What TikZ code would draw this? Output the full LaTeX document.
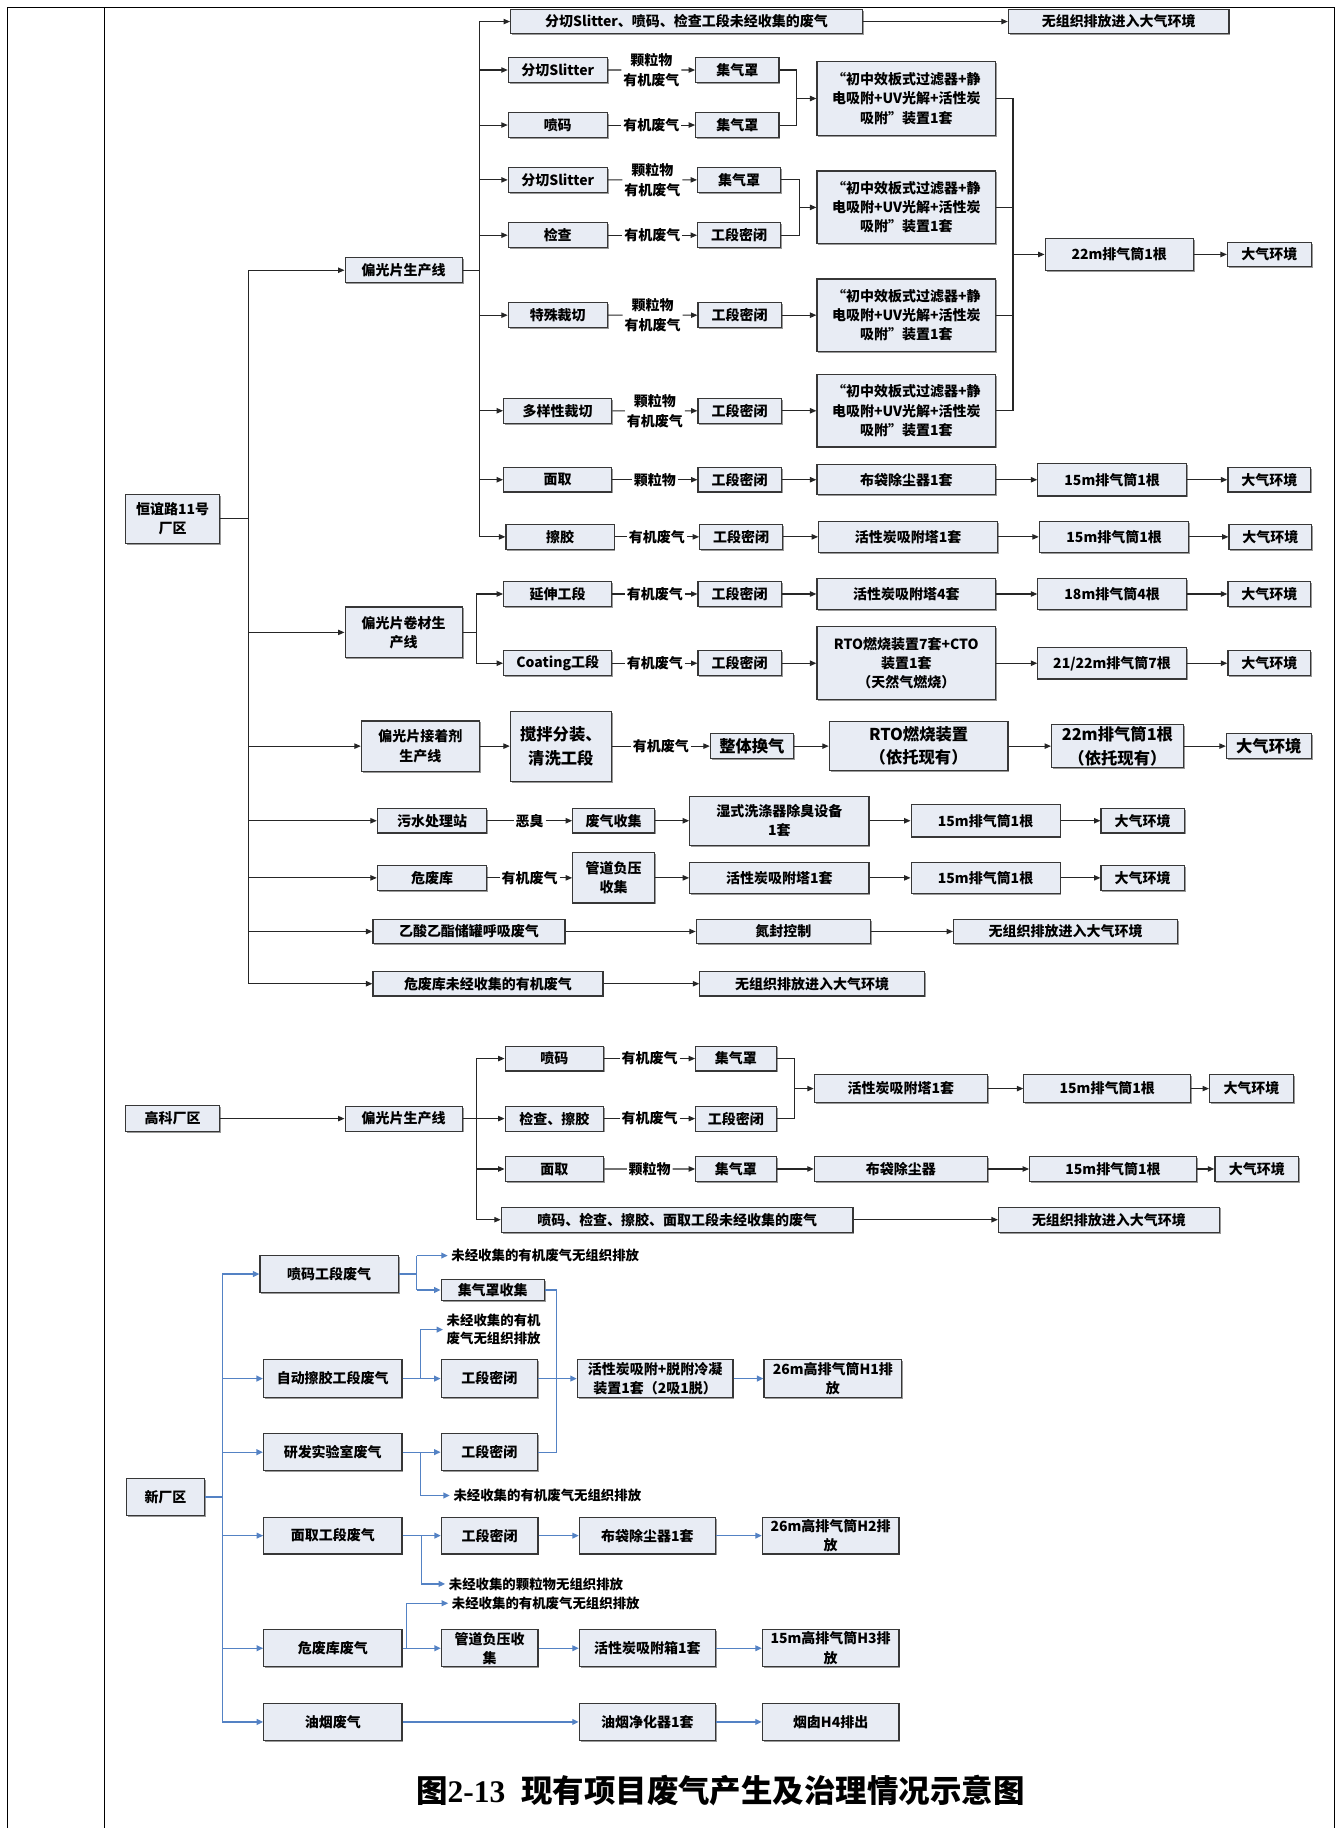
\documentclass[tikz,border=0pt]{standalone}
\usepackage{fontspec}
\setmainfont{Noto Sans CJK SC}
\newfontfamily\tnr{Liberation Serif}
\usetikzlibrary{arrows.meta,calc,shadows}
\definecolor{boxfill}{RGB}{232,236,244}
\definecolor{boxline}{RGB}{55,55,55}
\definecolor{bl}{RGB}{84,130,196}
\newcommand\fsA{\fontsize{12}{16.5}\selectfont\bfseries}
\newcommand\fsB{\fontsize{14}{20}\selectfont\bfseries}
\newcommand\fsL{\fontsize{12}{17}\selectfont\bfseries}
\newcommand\fsS{\fontsize{11.5}{15}\selectfont\bfseries}
\newcommand\fsT{\fontsize{27}{30}\selectfont\bfseries}
\tikzset{
  box/.style={draw=boxline, line width=1pt, fill=boxfill, inner sep=0pt, align=center, font=\fsA,
    general shadow={fill=black!40, shadow xshift=1.2pt, shadow yshift=-1.2pt}},
  lbl/.style={inner sep=1.5pt, align=center, font=\fsL},
  btxt/.style={inner sep=3pt, anchor=west, align=left, font=\fsS},
  ln/.style={draw=black!85, line width=0.9pt},
  arr/.style={ln, -{Triangle[length=5.5pt,width=4.6pt]}},
  bln/.style={draw=bl, line width=1.1pt},
  barr/.style={bln, -{Triangle[length=5.5pt,width=5pt]}},
  frame/.style={draw=black, line width=0.8pt}
}
\newcommand\corrx[2]{\pgfmathsetmacro#1{(#2>438)?(438+(#2-438)*0.986):(#2)}}
\newcommand\mybox[7][]{%
  \corrx\mbxa{#3}\corrx\mbxb{#5}%
  \pgfmathsetmacro\mbw{\mbxb-\mbxa}\pgfmathsetmacro\mbh{#6-#4}%
  \node[box,minimum width=\mbw pt,minimum height=\mbh pt,#1] (#2) at ({(\mbxa+\mbxb)/2},{(#4+#6)/2}) {#7};}
\begin{document}
\begin{tikzpicture}[x=1pt,y=-1pt]
\useasboundingbox (0,0) rectangle (1149,1568);
% frame
\draw[frame] (6,1568) -- (6,6.3) -- (1145,6.3) -- (1145,1568);
\draw[frame] (89.7,6.3) -- (89.7,1568);

% ================= 恒谊路11号厂区 =================
\mybox{hy}{108}{424}{188}{466}{恒谊路11号\\厂区}
\coordinate (tr) at (213.4,231.8);
\mybox{pl1}{296}{221}{396.5}{242.6}{偏光片生产线}
\mybox{jc2}{296}{520.6}{396.5}{564.3}{偏光片卷材生\\产线}
\mybox{jz}{310}{618.5}{411}{661.5}{偏光片接着剂\\生产线}
\mybox{ws}{323.7}{693.5}{417.5}{714.5}{污水处理站}
\mybox{wf}{323.7}{742.3}{417.5}{763.7}{危废库}
\mybox{ys}{319.9}{788.5}{485.3}{809.5}{乙酸乙酯储罐呼吸废气}
\mybox{wfw}{319.9}{833.3}{518.3}{854.3}{危废库未经收集的有机废气}
\draw[ln] (tr) -- (wfw.west -| tr);
\draw[ln] (hy.east) -- (hy.east -| tr);
\foreach \n in {pl1,jc2,jz,ws,wf,ys,wfw} \draw[arr] (\n.west -| tr) -- (\n.west);

% 偏光片生产线 sub branches
\coordinate (s1) at (411,18.5);
\mybox{ua}{438}{8}{744}{29}{分切Slitter、喷码、检查工段未经收集的废气}
\mybox{wz1}{871}{8}{1063}{29}{无组织排放进入大气环境}
\mybox{sb1}{436}{49.5}{522}{70.6}{分切Slitter}
\mybox{jq1}{599}{49.5}{671.5}{70.6}{集气罩}
\mybox{pm}{436}{96.7}{522}{117.8}{喷码}
\mybox{jq2}{599}{96.7}{671.5}{117.8}{集气罩}
\mybox{f1}{704.5}{53}{860}{116}{“初中效板式过滤器+静\\电吸附+UV光解+活性炭\\吸附”装置1套}
\mybox{sb2}{436}{143.6}{522}{165}{分切Slitter}
\mybox{jq3}{600.7}{143.6}{672.7}{165}{集气罩}
\mybox{jc}{436}{191}{522}{212.5}{检查}
\mybox{gd1}{600.7}{191}{672.7}{212.5}{工段密闭}
\mybox{f2}{704.5}{146.7}{860}{209.1}{“初中效板式过滤器+静\\电吸附+UV光解+活性炭\\吸附”装置1套}
\mybox{tsc}{436}{259.7}{522}{281}{特殊裁切}
\mybox{gd2}{601}{259.7}{673.4}{281}{工段密闭}
\mybox{f3}{704.5}{239.3}{860}{301.4}{“初中效板式过滤器+静\\电吸附+UV光解+活性炭\\吸附”装置1套}
\mybox{dyx}{432}{341.5}{526}{363.2}{多样性裁切}
\mybox{gd3}{601}{341.5}{673.4}{363.2}{工段密闭}
\mybox{f4}{704.5}{321.3}{860}{383.4}{“初中效板式过滤器+静\\电吸附+UV光解+活性炭\\吸附”装置1套}
\mybox{mq}{432}{401}{526}{422}{面取}
\mybox{gd4}{601}{401}{673.4}{422}{工段密闭}
\mybox{bd1}{704.5}{398.5}{860}{424.5}{布袋除尘器1套}
\mybox{p15a}{896.7}{397.5}{1025.8}{425.5}{15m排气筒1根}
\mybox{dq2}{1062}{401}{1134}{422}{大气环境}
\mybox{cj}{434}{450}{528}{471}{擦胶}
\mybox{gd5}{602.5}{450}{674.6}{471}{工段密闭}
\mybox{hx1}{706}{447}{861.5}{474}{活性炭吸附塔1套}
\mybox{p15b}{898}{447}{1028}{474}{15m排气筒1根}
\mybox{dq3}{1063}{450}{1135}{471}{大气环境}
\mybox{p22}{903}{204.8}{1032}{231.7}{22m排气筒1根}
\mybox{dq1}{1061.6}{208}{1134.4}{228.5}{大气环境}

\draw[ln] (pl1.east) -- (pl1.east -| s1);
\draw[ln] (s1) -- (cj.west -| s1);
\foreach \n in {ua,sb1,pm,sb2,jc,tsc,dyx,mq,cj} \draw[arr] (\n.west -| s1) -- (\n.west);
\draw[arr] (ua) -- (wz1);

\node[lbl] (lb1) at ($(sb1.east)!.5!(jq1.west)$) {颗粒物\\有机废气};
\node[lbl] (lb2) at ($(pm.east)!.5!(jq2.west)$) {有机废气};
\node[lbl] (lb3) at ($(sb2.east)!.5!(jq3.west)$) {颗粒物\\有机废气};
\node[lbl] (lb4) at ($(jc.east)!.5!(gd1.west)$) {有机废气};
\node[lbl] (lb5) at ($(tsc.east)!.5!(gd2.west)$) {颗粒物\\有机废气};
\node[lbl] (lb6) at ($(dyx.east)!.5!(gd3.west)$) {颗粒物\\有机废气};
\node[lbl] (lb7) at ($(mq.east)!.5!(gd4.west)$) {颗粒物};
\node[lbl] (lb8) at ($(cj.east)!.5!(gd5.west)$) {有机废气};
\draw[ln] (sb1) -- (lb1); \draw[arr] (lb1) -- (jq1);
\draw[ln] (pm) -- (lb2); \draw[arr] (lb2) -- (jq2);
\draw[ln] (sb2) -- (lb3); \draw[arr] (lb3) -- (jq3);
\draw[ln] (jc) -- (lb4); \draw[arr] (lb4) -- (gd1);
\draw[ln] (tsc) -- (lb5); \draw[arr] (lb5) -- (gd2);
\draw[ln] (dyx) -- (lb6); \draw[arr] (lb6) -- (gd3);
\draw[ln] (mq) -- (lb7); \draw[arr] (lb7) -- (gd4);
\draw[ln] (cj) -- (lb8); \draw[arr] (lb8) -- (gd5);

\coordinate (j1) at (683.5,0);
\draw[ln] (jq1.east) -- (jq1.east -| j1) -- (jq2.east -| j1) -- (jq2.east);
\draw[arr] (f1.west -| j1) -- (f1.west);
\coordinate (j2) at (685.5,0);
\draw[ln] (jq3.east) -- (jq3.east -| j2) -- (gd1.east -| j2) -- (gd1.east);
\draw[arr] (f2.west -| j2) -- (f2.west);
\draw[arr] (gd2) -- (f3);
\draw[arr] (gd3) -- (f4);
\coordinate (c1) at (868.9,0);
\draw[ln] (f1.east) -- (f1.east -| c1) -- (f4.east -| c1) -- (f4.east);
\draw[ln] (f2.east) -- (f2.east -| c1);
\draw[ln] (f3.east) -- (f3.east -| c1);
\draw[arr] (p22.west -| c1) -- (p22.west);
\draw[arr] (p22) -- (dq1);
\draw[arr] (gd4) -- (bd1); \draw[arr] (bd1) -- (p15a); \draw[arr] (p15a) -- (dq2);
\draw[arr] (gd5) -- (hx1); \draw[arr] (hx1) -- (p15b); \draw[arr] (p15b) -- (dq3);

% 偏光片卷材生产线
\coordinate (s2) at (408.7,0);
\mybox{yszd}{432}{499}{526}{520}{延伸工段}
\mybox{gd6}{601}{499}{673.4}{520}{工段密闭}
\mybox{hx4}{704.5}{496.5}{860}{522.5}{活性炭吸附塔4套}
\mybox{p18}{896.7}{496}{1025.8}{523}{18m排气筒4根}
\mybox{dq4}{1062}{499}{1134}{520}{大气环境}
\mybox{ct}{432}{558.3}{526}{579.5}{Coating工段}
\mybox{gd7}{601}{558.3}{673.4}{579.5}{工段密闭}
\mybox{rto}{704.5}{537.7}{860}{600.1}{RTO燃烧装置7套+CTO\\装置1套\\（天然气燃烧）}
\mybox{p21}{896.7}{555.4}{1025.8}{582.4}{21/22m排气筒7根}
\mybox{dq5}{1062}{558.3}{1134}{579.5}{大气环境}
\draw[ln] (jc2.east) -- (jc2.east -| s2);
\draw[ln] (yszd.west -| s2) -- (ct.west -| s2);
\draw[arr] (yszd.west -| s2) -- (yszd.west);
\draw[arr] (ct.west -| s2) -- (ct.west);
\node[lbl] (lb9) at ($(yszd.east)!.5!(gd6.west)$) {有机废气};
\node[lbl] (lb10) at ($(ct.east)!.5!(gd7.west)$) {有机废气};
\draw[ln] (yszd) -- (lb9); \draw[arr] (lb9) -- (gd6);
\draw[ln] (ct) -- (lb10); \draw[arr] (lb10) -- (gd7);
\draw[arr] (gd6) -- (hx4); \draw[arr] (hx4) -- (p18); \draw[arr] (p18) -- (dq4);
\draw[arr] (gd7) -- (rto); \draw[arr] (rto) -- (p21); \draw[arr] (p21) -- (dq5);

% 偏光片接着剂生产线
\mybox[font=\fsB]{jb}{437.8}{610}{525.6}{670}{搅拌分装、\\清洗工段}
\mybox[font=\fsB]{zt}{611.8}{629.3}{684}{650.7}{整体换气}
\mybox[font=\fsB]{rto2}{715.2}{619}{870.7}{661}{RTO燃烧装置\\（依托现有）}
\mybox[font=\fsB]{p22b}{908.6}{621.5}{1023.2}{658.5}{22m排气筒1根\\（依托现有）}
\mybox[font=\fsB]{dq6}{1060.7}{629.3}{1134.4}{650.7}{大气环境}
\draw[arr] (jz) -- (jb);
\node[lbl] (lb11) at ($(jb.east)!.5!(zt.west)$) {有机废气};
\draw[ln] (jb) -- (lb11); \draw[arr] (lb11) -- (zt);
\draw[arr] (zt) -- (rto2); \draw[arr] (rto2) -- (p22b); \draw[arr] (p22b) -- (dq6);

% 污水处理站
\mybox{fq}{492}{693.5}{563}{714.5}{废气收集}
\mybox{sx}{593.8}{683}{749.7}{725}{湿式洗涤器除臭设备\\1套}
\mybox{p15c}{786.4}{690}{916}{718}{15m排气筒1根}
\mybox{dq7}{951.6}{693.5}{1024}{714.5}{大气环境}
\node[lbl] (lb12) at ($(ws.east)!.5!(fq.west)$) {恶臭};
\draw[ln] (ws) -- (lb12); \draw[arr] (lb12) -- (fq);
\draw[arr] (fq) -- (sx); \draw[arr] (sx) -- (p15c); \draw[arr] (p15c) -- (dq7);

% 危废库
\mybox{gy1}{492}{731.5}{563}{774.5}{管道负压\\收集}
\mybox{hx5}{593.8}{739.5}{749.7}{766.5}{活性炭吸附塔1套}
\mybox{p15d}{786.4}{739.5}{916}{766.5}{15m排气筒1根}
\mybox{dq8}{951.6}{742.3}{1024}{763.7}{大气环境}
\node[lbl] (lb13) at ($(wf.east)!.5!(gy1.west)$) {有机废气};
\draw[ln] (wf) -- (lb13); \draw[arr] (lb13) -- (gy1);
\draw[arr] (gy1) -- (hx5); \draw[arr] (hx5) -- (p15d); \draw[arr] (p15d) -- (dq8);

% 乙酸乙酯 / 危废库未经收集
\mybox{df}{599.5}{788.5}{751.2}{809.5}{氮封控制}
\mybox{wz2}{823.3}{788.5}{1018.2}{809.5}{无组织排放进入大气环境}
\mybox{wz3}{602.6}{833.3}{798}{854.3}{无组织排放进入大气环境}
\draw[arr] (ys) -- (df); \draw[arr] (df) -- (wz2);
\draw[arr] (wfw) -- (wz3);

% ================= 高科厂区 =================
\mybox{gk}{108}{948.5}{188}{970.5}{高科厂区}
\mybox{gp}{296}{948.8}{396.5}{970.2}{偏光片生产线}
\draw[arr] (gk) -- (gp);
\coordinate (s3) at (408.7,0);
\mybox{gpm}{433.3}{897.3}{519}{918.7}{喷码}
\mybox{gjc}{433.3}{948.8}{519}{970.2}{检查、擦胶}
\mybox{gmq}{433.3}{992}{519}{1013.4}{面取}
\mybox{gw}{430}{1035.4}{735.9}{1057}{喷码、检查、擦胶、面取工段未经收集的废气}
\mybox{gwz}{862.4}{1035.4}{1054.6}{1057}{无组织排放进入大气环境}
\mybox{gjq1}{599}{897.3}{669}{918.7}{集气罩}
\mybox{ggd}{599}{948.8}{669}{970.2}{工段密闭}
\mybox{ghx}{702.2}{922}{852.8}{945.5}{活性炭吸附塔1套}
\mybox{gp15a}{884.5}{922}{1029.7}{945.5}{15m排气筒1根}
\mybox{gdq1}{1046}{922}{1119}{945.5}{大气环境}
\mybox{gjq2}{599}{992}{669}{1013.4}{集气罩}
\mybox{gbd}{702.2}{992}{852.8}{1013.4}{布袋除尘器}
\mybox{gp15b}{889.5}{992}{1034.7}{1013.4}{15m排气筒1根}
\mybox{gdq2}{1050.7}{992}{1123.6}{1013.4}{大气环境}
\draw[ln] (gp.east) -- (gp.east -| s3);
\draw[ln] (gpm.west -| s3) -- (gw.west -| s3);
\foreach \n in {gpm,gjc,gmq,gw} \draw[arr] (\n.west -| s3) -- (\n.west);
\node[lbl] (gl1) at ($(gpm.east)!.5!(gjq1.west)$) {有机废气};
\node[lbl] (gl2) at ($(gjc.east)!.5!(ggd.west)$) {有机废气};
\node[lbl] (gl3) at ($(gmq.east)!.5!(gjq2.west)$) {颗粒物};
\draw[ln] (gpm) -- (gl1); \draw[arr] (gl1) -- (gjq1);
\draw[ln] (gjc) -- (gl2); \draw[arr] (gl2) -- (ggd);
\draw[ln] (gmq) -- (gl3); \draw[arr] (gl3) -- (gjq2);
\coordinate (j3) at (681.8,0);
\draw[ln] (gjq1.east) -- (gjq1.east -| j3) -- (ggd.east -| j3) -- (ggd.east);
\draw[arr] (ghx.west -| j3) -- (ghx.west);
\draw[arr] (ghx) -- (gp15a); \draw[arr] (gp15a) -- (gdq1);
\draw[arr] (gjq2) -- (gbd); \draw[arr] (gbd) -- (gp15b); \draw[arr] (gp15b) -- (gdq2);
\draw[arr] (gw) -- (gwz);

% ================= 新厂区 =================
\mybox{xc}{108.4}{1268}{175.5}{1300}{新厂区}
\coordinate (bt) at (190.8,0);
\mybox{pmf}{223}{1077}{341.7}{1108.6}{喷码工段废气}
\mybox{zdf}{226}{1166.4}{344.8}{1198.6}{自动擦胶工段废气}
\mybox{yff}{226}{1229.9}{344.8}{1261.3}{研发实验室废气}
\mybox{mqf}{226.2}{1301.5}{344.8}{1332.9}{面取工段废气}
\mybox{wff}{226.2}{1398}{344.8}{1429.6}{危废库废气}
\mybox{yyf}{226.2}{1461}{344.8}{1493}{油烟废气}
\draw[bln] (pmf.west -| bt) -- (yyf.west -| bt);
\draw[bln] (xc.east) -- (xc.east -| bt);
\foreach \n in {pmf,zdf,yff,mqf,wff,yyf} \draw[barr] (\n.west -| bt) -- (\n.west);

% 喷码工段废气
\coordinate (v1) at (357.4,0);
\node[btxt] (t1) at (384,1077) {未经收集的有机废气无组织排放};
\mybox{jqs}{378.4}{1097.5}{467.3}{1115.5}{集气罩收集}
\draw[bln] (pmf.east) -- (pmf.east -| v1);
\draw[bln] (t1.west -| v1) -- (jqs.west -| v1);
\draw[barr] (t1.west -| v1) -- (t1.west);
\draw[barr] (jqs.west -| v1) -- (jqs.west);

% 自动擦胶工段废气
\coordinate (v2) at (360.8,0);
\node[btxt] (t2) at (380,1140.5) {未经收集的有机\\废气无组织排放};
\mybox{gda}{378.4}{1166.4}{461.6}{1198.6}{工段密闭}
\draw[barr] (zdf) -- (gda);
\draw[barr] (gda.west -| v2) -- (t2.west -| v2) -- (t2.west);

% 研发实验室废气
\mybox{gdb}{378.4}{1229.9}{461.6}{1261.3}{工段密闭}
\node[btxt] (t3) at (385.8,1282.8) {未经收集的有机废气无组织排放};
\draw[barr] (yff) -- (gdb);
\draw[barr] (gdb.west -| v2) -- (t3.west -| v2) -- (t3.west);

% collector
\coordinate (c2) at (477.1,0);
\mybox{hxt}{496}{1166.4}{631.4}{1198.6}{活性炭吸附+脱附冷凝\\装置1套（2吸1脱）}
\mybox{h1}{658.4}{1166.4}{778.3}{1198.6}{26m高排气筒H1排\\放}
\draw[bln] (jqs.east) -- (jqs.east -| c2) -- (gdb.east -| c2) -- (gdb.east);
\draw[barr] (gda) -- (hxt);
\draw[barr] (hxt) -- (h1);

% 面取工段废气
\coordinate (v4) at (361.4,0);
\mybox{gdc}{378.6}{1301.5}{461.8}{1332.9}{工段密闭}
\mybox{bdc}{497.7}{1301.5}{616.2}{1332.9}{布袋除尘器1套}
\mybox{h2}{656.9}{1301.5}{775.9}{1332.9}{26m高排气筒H2排\\放}
\node[btxt] (t4) at (381.8,1358.6) {未经收集的颗粒物无组织排放};
\draw[barr] (mqf) -- (gdc);
\draw[barr] (gdc.west -| v4) -- (t4.west -| v4) -- (t4.west);
\draw[barr] (gdc) -- (bdc); \draw[barr] (bdc) -- (h2);

% 危废库废气
\coordinate (v5) at (348.4,0);
\node[btxt] (t5) at (384.4,1375.2) {未经收集的有机废气无组织排放};
\mybox{gy}{378.6}{1398}{461.8}{1429.6}{管道负压收\\集}
\mybox{hxx}{497.7}{1398}{616.2}{1429.6}{活性炭吸附箱1套}
\mybox{h3}{656.9}{1398}{775.9}{1429.6}{15m高排气筒H3排\\放}
\draw[barr] (wff) -- (gy);
\draw[barr] (gy.west -| v5) -- (t5.west -| v5) -- (t5.west);
\draw[barr] (gy) -- (hxx); \draw[barr] (hxx) -- (h3);

% 油烟废气
\mybox{yj}{497.7}{1461}{616.2}{1493}{油烟净化器1套}
\mybox{h4}{656.9}{1461}{775.9}{1493}{烟囱H4排出}
\draw[barr] (yyf) -- (yj); \draw[barr] (yj) -- (h4);

% title
\node[font=\fsT, inner sep=0pt] (title) at (618,1536) {图{\tnr 2-13}\hspace{0.5em}现有项目废气产生及治理情况示意图};
\end{tikzpicture}
\end{document}
